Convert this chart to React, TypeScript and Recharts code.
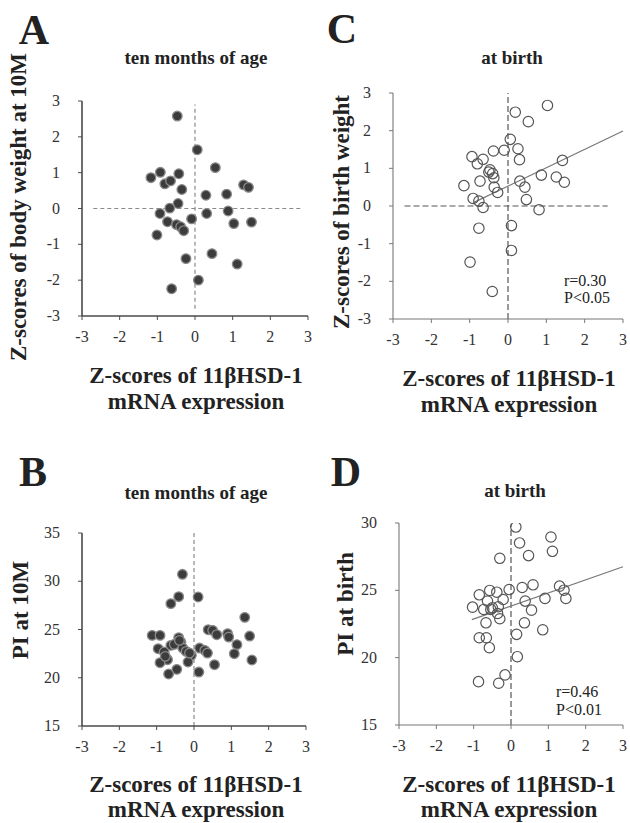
import React from "react";
import { ScatterChart, Scatter, XAxis, YAxis, ReferenceLine } from "recharts";

// shared axis ticks
const zTicks = [-3, -2, -1, 0, 1, 2, 3];
const piTicks = [15, 20, 25, 30, 35];
const piTicksD = [15, 20, 25, 30];

// A: body weight z-score at 10 months vs 11bHSD-1 z-score
const aX = [-0.47, 0.06, 0.54, -0.92, -1.17, -0.43, -0.8, -0.65, -0.35, 1.29, 1.42, 0.29, 0.84, -0.45, -0.67, -0.93, 0.88, 0.31, -0.09, -0.73, -0.49, -0.38, -0.3, 1.03, 1.5, -1.01, 0.45, -0.24, 1.12, 0.09, -0.62];
const aY = [2.58, 1.64, 1.14, 1.01, 0.86, 0.97, 0.69, 0.77, 0.53, 0.66, 0.59, 0.37, 0.4, 0.14, 0.01, -0.14, -0.07, -0.14, -0.29, -0.37, -0.45, -0.51, -0.62, -0.42, -0.38, -0.74, -1.26, -1.4, -1.55, -2.0, -2.24];

// C: birth weight z-score vs 11bHSD-1 z-score
const cX = [1.03, 0.19, 0.53, 0.06, 0.26, -0.1, -0.38, -0.94, -0.65, -0.8, 0.3, 1.42, -0.47, -0.5, -0.4, -0.37, -0.73, -1.15, 0.87, 1.26, 1.47, 0.31, 0.44, -0.36, -0.27, -0.91, -0.76, -0.65, 0.48, 0.81, 0.09, -0.76, 0.09, -0.99, -0.41];
const cY = [2.67, 2.49, 2.24, 1.77, 1.52, 1.48, 1.46, 1.31, 1.24, 1.12, 1.23, 1.21, 0.96, 0.9, 0.86, 0.75, 0.66, 0.54, 0.82, 0.77, 0.63, 0.66, 0.5, 0.5, 0.36, 0.2, 0.13, -0.04, 0.17, -0.1, -0.52, -0.59, -1.18, -1.49, -2.27];
const cFitX = [-0.9, 3.0];
const cFitY = [0.09, 1.99];

// B: PI at 10 months
const bX = [-0.31, -0.41, -0.62, 0.11, 1.36, -1.12, -0.91, 0.38, 0.5, 0.61, 0.9, 0.93, 1.49, -0.41, -0.35, -0.62, -0.53, -0.96, -0.3, -0.21, -0.8, 0.15, 0.29, 0.36, 1.15, 1.08, -0.07, -0.71, -0.91, -0.16, 1.55, 0.55, -0.46, -0.68, 0.13, -0.39, -0.77, -0.12];
const bY = [30.72, 28.4, 27.68, 28.37, 26.26, 24.39, 24.39, 24.98, 24.91, 24.46, 24.57, 24.22, 24.32, 24.15, 23.7, 23.36, 23.46, 23.01, 23.08, 22.73, 22.67, 23.08, 22.84, 22.56, 23.43, 22.49, 22.32, 21.87, 21.56, 21.63, 21.84, 21.35, 20.87, 20.39, 20.59, 23.87, 22.22, 22.56];

// D: PI at birth
const dX = [0.13, 0.23, 1.07, 1.11, 0.47, -0.3, -0.05, 0.3, 0.59, 1.3, 1.42, 1.47, 0.91, 0.38, -0.85, -0.57, -0.38, -0.21, -1.03, -0.63, -0.73, -0.5, -0.34, -0.36, -0.3, 0.55, -0.67, 0.36, 0.85, 0.15, -0.85, -0.66, -0.58, 0.17, -0.16, -0.33, -0.87, -0.54];
const dY = [29.7, 28.52, 28.96, 27.9, 27.58, 27.38, 25.06, 25.21, 25.41, 25.31, 25.01, 24.4, 24.4, 24.2, 24.67, 24.99, 24.86, 24.32, 23.75, 24.2, 23.58, 23.7, 23.78, 23.28, 22.89, 23.53, 22.59, 22.59, 22.07, 21.73, 21.48, 21.48, 20.74, 20.07, 18.72, 18.1, 18.22, 23.58];
const dFitX = [-1.05, 3.0];
const dFitY = [22.82, 26.75];

const serif = "Liberation Serif, Times New Roman, serif";

const toPoints = (xs: number[], ys: number[]) => xs.map((x, i) => ({ x, y: ys[i] }));

const filledDot = (p: any) => (
  <circle cx={p.cx} cy={p.cy} r={4.8} fill="#3c3c3c" stroke="#8a8a8a" strokeWidth={1.3} />
);
const openDot = (p: any) => (
  <circle cx={p.cx} cy={p.cy} r={5.2} fill="none" stroke="#555" strokeWidth={1.2} />
);

// serif tick labels
const XTick = (p: any) => (
  <text x={p.x} y={p.y + 14} textAnchor="middle" fontFamily={serif} fontSize={16} fill="#333">
    {p.payload.value}
  </text>
);
const YTick = (p: any) => (
  <text x={p.x - 6} y={p.y + 5} textAnchor="end" fontFamily={serif} fontSize={16} fill="#333">
    {p.payload.value}
  </text>
);

interface Seg {
  x1: number;
  y1: number;
  x2: number;
  y2: number;
}

interface PanelProps {
  left: number;
  top: number;
  w: number;
  h: number;
  yDomain: [number, number];
  yTicks: number[];
  xs: number[];
  ys: number[];
  filled: boolean;
  dashed: Seg[];
  fit?: Seg;
}

function Panel({ left, top, w, h, yDomain, yTicks, xs, ys, filled, dashed, fit }: PanelProps) {
  const axisColor = filled ? "#4a4a4a" : "#777";
  const dashColor = filled ? "#8a8a8a" : "#555";
  return (
    <div style={{ position: "absolute", left: left - 60, top: top - 10 }}>
      <ScatterChart width={w + 65} height={h + 50} margin={{ top: 10, right: 5, left: 0, bottom: 0 }}>
        <XAxis
          type="number"
          dataKey="x"
          domain={[-3, 3]}
          ticks={zTicks}
          allowDataOverflow
          height={40}
          tickSize={4}
          tickMargin={8}
          tick={XTick}
          axisLine={{ stroke: axisColor, strokeWidth: filled ? 1.6 : 1.1 }}
          tickLine={{ stroke: axisColor }}
        />
        <YAxis
          type="number"
          dataKey="y"
          domain={yDomain}
          ticks={yTicks}
          allowDataOverflow
          width={60}
          tickSize={4}
          tickMargin={12}
          tick={YTick}
          axisLine={{ stroke: axisColor, strokeWidth: filled ? 1.6 : 1.1 }}
          tickLine={{ stroke: axisColor }}
        />
        {dashed.map((s, i) => (
          <ReferenceLine
            key={i}
            segment={[
              { x: s.x1, y: s.y1 },
              { x: s.x2, y: s.y2 },
            ]}
            stroke={dashColor}
            strokeWidth={1.2}
            strokeDasharray={filled ? "4 3" : "6 3"}
          />
        ))}
        {fit && (
          <ReferenceLine
            segment={[
              { x: fit.x1, y: fit.y1 },
              { x: fit.x2, y: fit.y2 },
            ]}
            stroke="#777"
            strokeWidth={1.2}
          />
        )}
        <Scatter data={toPoints(xs, ys)} shape={filled ? filledDot : openDot} isAnimationActive={false} />
      </ScatterChart>
    </div>
  );
}

function Txt({ x, y, size, bold, children, rotate, anchor = "center" }: any) {
  const tx = anchor === "left" ? "0" : "-50%";
  return (
    <div
      style={{
        position: "absolute",
        left: x,
        top: y,
        transform: `translate(${tx}, -50%)${rotate ? " rotate(-90deg)" : ""}`,
        transformOrigin: anchor === "left" ? "0 50%" : "50% 50%",
        fontFamily: serif,
        fontSize: size,
        fontWeight: bold ? "bold" : "normal",
        color: "#222",
        whiteSpace: "nowrap",
        lineHeight: 1,
      }}
    >
      {children}
    </div>
  );
}

export default function App() {
  return (
    <div
      style={{
        position: "absolute",
        left: 0,
        top: 0,
        width: 630,
        height: 823,
        overflow: "hidden",
        background: "#fff",
      }}
    >
      <Panel
        left={82}
        top={101}
        w={226}
        h={215}
        yDomain={[-3, 3]}
        yTicks={zTicks}
        xs={aX}
        ys={aY}
        filled
        dashed={[
          { x1: -2.7, y1: 0, x2: 2.8, y2: 0 },
          { x1: 0, y1: -2.8, x2: 0, y2: 2.9 },
        ]}
      />
      <Panel
        left={393}
        top={93}
        w={230}
        h={226}
        yDomain={[-3, 3]}
        yTicks={zTicks}
        xs={cX}
        ys={cY}
        filled={false}
        dashed={[
          { x1: -2.7, y1: 0, x2: 2.6, y2: 0 },
          { x1: 0, y1: -3, x2: 0, y2: 3 },
        ]}
        fit={{ x1: cFitX[0], y1: cFitY[0], x2: cFitX[1], y2: cFitY[1] }}
      />
      <Panel
        left={82}
        top={533}
        w={224}
        h={193}
        yDomain={[15, 35]}
        yTicks={piTicks}
        xs={bX}
        ys={bY}
        filled
        dashed={[{ x1: 0, y1: 15, x2: 0, y2: 35 }]}
      />
      <Panel
        left={399}
        top={523}
        w={224}
        h={202}
        yDomain={[15, 30]}
        yTicks={piTicksD}
        xs={dX}
        ys={dY}
        filled={false}
        dashed={[{ x1: 0, y1: 15, x2: 0, y2: 29.9 }]}
        fit={{ x1: dFitX[0], y1: dFitY[0], x2: dFitX[1], y2: dFitY[1] }}
      />

      {/* panel letters */}
      <Txt x={34} y={30} size={42} bold>A</Txt>
      <Txt x={342} y={29} size={42} bold>C</Txt>
      <Txt x={33} y={472} size={42} bold>B</Txt>
      <Txt x={346} y={472} size={42} bold>D</Txt>

      {/* titles */}
      <Txt x={196} y={57} size={19} bold>ten months of age</Txt>
      <Txt x={512} y={57} size={19} bold>at birth</Txt>
      <Txt x={196} y={492} size={19} bold>ten months of age</Txt>
      <Txt x={515} y={490} size={19} bold>at birth</Txt>

      {/* y axis titles */}
      <Txt x={18} y={207} size={23} bold rotate>Z-scores of body weight at 10M</Txt>
      <Txt x={341} y={212} size={23} bold rotate>Z-scores of birth weight</Txt>
      <Txt x={20} y={610} size={23} bold rotate>PI at 10M</Txt>
      <Txt x={345} y={604} size={23} bold rotate>PI at birth</Txt>

      {/* x axis titles */}
      <Txt x={196} y={375} size={23} bold>Z-scores of 11βHSD-1</Txt>
      <Txt x={196} y={401} size={23} bold>mRNA expression</Txt>
      <Txt x={509} y={378} size={23} bold>Z-scores of 11βHSD-1</Txt>
      <Txt x={509} y={404} size={23} bold>mRNA expression</Txt>
      <Txt x={196} y={784} size={23} bold>Z-scores of 11βHSD-1</Txt>
      <Txt x={196} y={809} size={23} bold>mRNA expression</Txt>
      <Txt x={509} y={784} size={23} bold>Z-scores of 11βHSD-1</Txt>
      <Txt x={509} y={809} size={23} bold>mRNA expression</Txt>

      {/* stats */}
      <Txt x={564} y={281} size={16} anchor="left">r=0.30</Txt>
      <Txt x={564} y={298} size={16} anchor="left">P&lt;0.05</Txt>
      <Txt x={556} y={692} size={16} anchor="left">r=0.46</Txt>
      <Txt x={556} y={710} size={16} anchor="left">P&lt;0.01</Txt>
    </div>
  );
}
